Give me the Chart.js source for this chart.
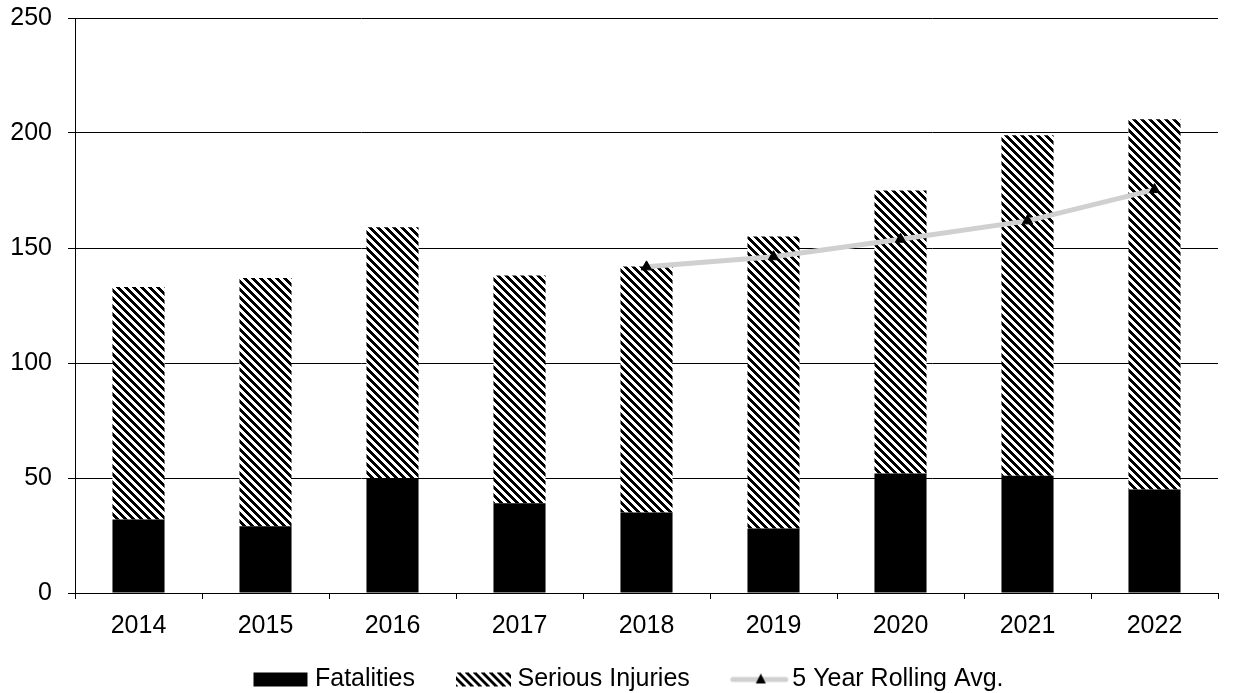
<!DOCTYPE html>
<html>
<head>
<meta charset="utf-8">
<script src="https://cdn.jsdelivr.net/npm/chart.js@4.4.0/dist/chart.umd.min.js"></script>
<style>
  html,body{margin:0;padding:0;background:#fff;overflow:hidden;}
  #wrap{width:1233px;height:693px;overflow:hidden;position:relative;}
  /* canvas is a bit taller and pulled up so the 250 line sits near the top edge */
  #chart{position:absolute;left:0;top:-13px;}
</style>
</head>
<body>
<div id="wrap"><canvas id="chart" width="1233" height="706"></canvas></div>
<script>
const years = ['2014','2015','2016','2017','2018','2019','2020','2021','2022'];
const fatalities = [32, 29, 50, 39, 35, 28, 52, 51, 45];
const seriousInjuries = [101, 108, 109, 99, 107, 127, 123, 148, 161];
const rollingAvg = [null, null, null, null, 141.8, 146.2, 153.8, 161.8, 175.4];
const yTicks = [0, 50, 100, 150, 200, 250];

// diagonal "\" stripe pattern, like the office hatch fill
function makeHatch(){
  const c = document.createElement('canvas');
  c.width = 8; c.height = 8;
  const g = c.getContext('2d');
  g.fillStyle = '#fff'; g.fillRect(0,0,8,8);
  g.fillStyle = '#000';
  for(let y=0;y<8;y++){
    for(let x=0;x<8;x++){
      if(((x - y) % 8 + 8) % 8 < 4) g.fillRect(x,y,1,1);
    }
  }
  return g.createPattern(c,'repeat');
}
const hatch = makeHatch();

// legend icons: 100px canvas, the mark sits at the right so it hugs the text,
// the empty left part gives the gap between legend entries
function legendIcon(kind){
  const c = document.createElement('canvas');
  c.width = 100; c.height = 18;
  const g = c.getContext('2d');
  if(kind==='black'){ g.fillStyle='#000'; g.fillRect(41,2,54,14); }
  if(kind==='hatch'){ g.fillStyle=hatch; g.fillRect(41,2,55,14); }
  if(kind==='line'){
    g.strokeStyle='#d0d0d0'; g.lineWidth=5; g.lineCap='round';
    g.beginPath(); g.moveTo(43,9); g.lineTo(96,9); g.stroke();
    g.fillStyle='#000';
    g.beginPath(); g.moveTo(71,3); g.lineTo(76,13); g.lineTo(66,13); g.closePath(); g.fill();
  }
  return c;
}
const icons = [legendIcon('black'), legendIcon('hatch'), legendIcon('line')];

Chart.defaults.font.family = '"Liberation Sans", Arial, sans-serif';
Chart.defaults.color = '#000';

new Chart(document.getElementById('chart').getContext('2d'), {
  type: 'bar',
  data: {
    labels: years,
    datasets: [
      { label: 'Fatalities', data: fatalities, backgroundColor: '#000', stack: 's', order: 2,
        categoryPercentage: 1, barPercentage: 0.41 },
      { label: 'Serious Injuries', data: seriousInjuries, backgroundColor: hatch, stack: 's', order: 2,
        categoryPercentage: 1, barPercentage: 0.41 },
      { type: 'line', label: '5 Year Rolling Avg.', data: rollingAvg, stack: 'avg', order: 1,
        borderColor: '#d0d0d0', borderWidth: 5, pointStyle: 'triangle', pointRadius: 6,
        pointBackgroundColor: '#000', pointBorderColor: '#000', pointBorderWidth: 1, spanGaps: false }
    ]
  },
  options: {
    responsive: false,
    animation: false,
    layout: { padding: { top: 0, right: 15, left: 8, bottom: -9 } },
    plugins: {
      tooltip: { enabled: false },
      legend: {
        position: 'bottom',
        labels: {
          usePointStyle: true,
          pointStyleWidth: 80,
          boxHeight: 18,
          padding: 10,
          font: { size: 25 },
          generateLabels: chart => chart.data.datasets.map((d,i) => ({
            text: d.label, pointStyle: icons[i], datasetIndex: i, hidden: false,
            fillStyle: '#000', strokeStyle: '#000', lineWidth: 0, fontColor: '#000'
          }))
        }
      }
    },
    scales: {
      x: {
        stacked: true,
        grid: { display: true, drawOnChartArea: false, drawTicks: true, tickLength: 6, color: '#000', offset: true },
        border: { color: '#000', width: 1 },
        ticks: { font: { size: 25 }, padding: 12, maxRotation: 0 },
        afterFit: s => { s.height = 64; }
      },
      y: {
        stacked: true,
        min: 0, max: 250,
        afterBuildTicks: s => { s.ticks = yTicks.map(v => ({ value: v })); },
        grid: { color: '#000', lineWidth: 1, tickLength: 7, drawTicks: true },
        border: { color: '#000', width: 1 },
        ticks: { font: { size: 25 }, padding: 16 },
        afterFit: s => { s.width = 67; }
      }
    }
  }
});
</script>
</body>
</html>
